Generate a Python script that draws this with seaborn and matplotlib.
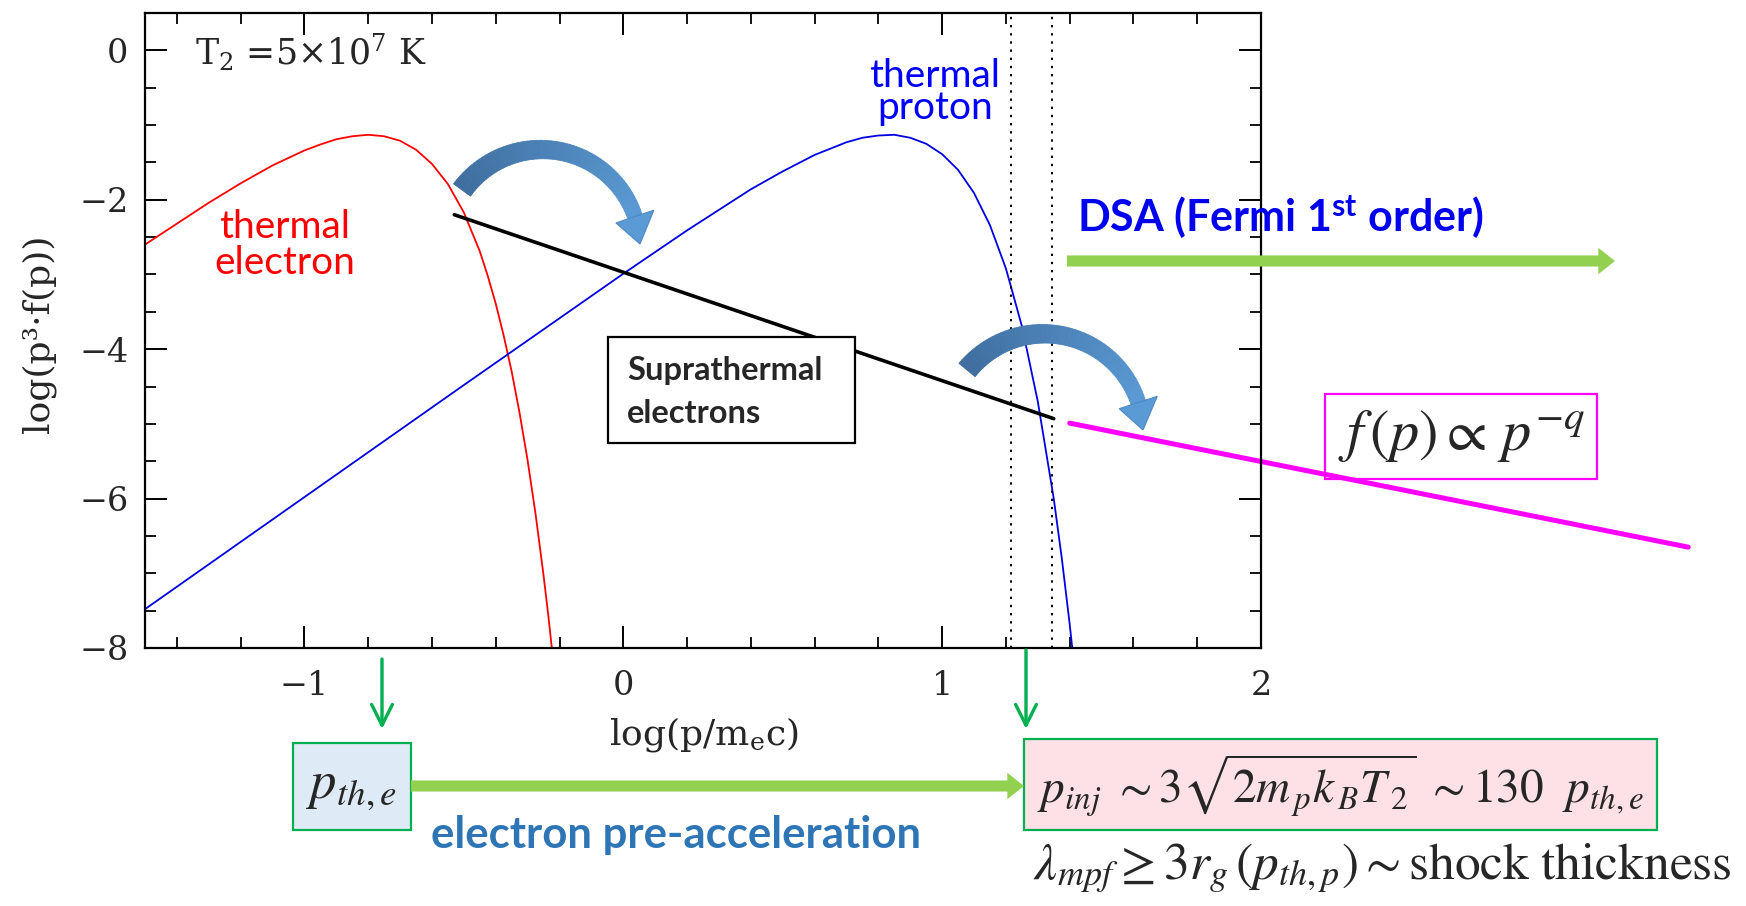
import matplotlib
matplotlib.use("Agg")
import matplotlib.pyplot as plt
import seaborn as sns
import numpy as np
import pandas as pd
from matplotlib.patches import FancyArrowPatch, ArrowStyle, Rectangle, Polygon
from matplotlib.ticker import FixedLocator, MultipleLocator
from matplotlib.colors import to_rgb

# ---------------- data ----------------
# thermal electron distribution  log(p^3 f(p)) vs log(p/m_e c)
red_x = [-1.5, -1.4, -1.3, -1.2, -1.1, -1.0, -0.95, -0.9, -0.85, -0.8, -0.75, -0.7,
         -0.65, -0.6, -0.55, -0.5, -0.45, -0.425, -0.4, -0.375, -0.35, -0.325, -0.3,
         -0.275, -0.25, -0.235, -0.22]
red_y = [-2.60, -2.32, -2.04, -1.78, -1.54, -1.34, -1.26, -1.19, -1.15, -1.13, -1.15, -1.21,
         -1.33, -1.52, -1.79, -2.17, -2.69, -3.02, -3.39, -3.82, -4.30, -4.86, -5.49,
         -6.21, -7.03, -7.57, -8.16]
# thermal proton distribution
blue_x = [-1.5, -1.0, -0.5, 0.0, 0.2, 0.4, 0.5, 0.6, 0.7, 0.75, 0.8, 0.85, 0.9, 0.95,
          1.0, 1.05, 1.1, 1.15, 1.2, 1.25, 1.3, 1.35, 1.375, 1.4, 1.42]
blue_y = [-7.48, -5.98, -4.48, -2.99, -2.41, -1.86, -1.62, -1.40, -1.23, -1.17, -1.14,
          -1.13, -1.17, -1.25, -1.39, -1.60, -1.91, -2.34, -2.92, -3.69, -4.70, -6.00,
          -6.79, -7.68, -8.48]
# suprathermal electrons (black) and power law f(p) ~ p^-q (magenta)
supra_x = [-0.53, 1.35]
supra_y = [-2.20, -4.93]
power_x = [1.40, 3.34]
power_y = [-4.99, -6.65]
# injection range (dotted lines)
inj_x = [1.217, 1.346]
x_ticks = [-1, 0, 1, 2]
y_ticks = [0, -2, -4, -6, -8]

# ---------------- style ----------------
sns.set_theme(style="ticks")
plt.rcParams["font.family"] = ["DejaVu Serif"]
plt.rcParams["mathtext.fontset"] = "custom"
plt.rcParams["mathtext.rm"] = "DejaVu Serif"
plt.rcParams["mathtext.it"] = "DejaVu Serif:italic"
plt.rcParams["mathtext.bf"] = "Lato:bold"

W, H = 1746, 906
fig = plt.figure(figsize=(W / 100, H / 100), dpi=100, facecolor="white")
ax = fig.add_axes([145 / W, 1 - 648 / H, 1116 / W, 635 / H])
ax.set_facecolor("white")

sns.lineplot(x=red_x, y=red_y, ax=ax, color="#FF0000", linewidth=1.3,
             estimator=None, sort=False)
sns.lineplot(x=blue_x, y=blue_y, ax=ax, color="#0000E0", linewidth=1.3,
             estimator=None, sort=False)
sns.lineplot(x=supra_x, y=supra_y, ax=ax, color="black", linewidth=2.6,
             estimator=None, sort=False)
sns.lineplot(x=power_x, y=power_y, ax=ax, color="#FF00FF", linewidth=3.6,
             estimator=None, sort=False)
ax.lines[-1].set_clip_on(False)
for xv in inj_x:
    ax.axvline(xv, color="black", lw=1.4, ls=(0, (1.2, 3.0)))

ax.set_xlim(-1.5, 2)
ax.set_ylim(-8, 0.5)
ax.xaxis.set_major_locator(FixedLocator(x_ticks))
ax.yaxis.set_major_locator(FixedLocator(y_ticks))
ax.xaxis.set_minor_locator(MultipleLocator(0.2))
ax.yaxis.set_minor_locator(MultipleLocator(0.5))
ax.tick_params(which="both", direction="in", top=True, right=True, color="black")
ax.tick_params(which="major", length=16, width=1.4, labelsize=24, pad=12)
ax.tick_params(which="minor", length=8, width=1.3)
ax.tick_params(axis="x", which="major", pad=16)
for s in ax.spines.values():
    s.set_linewidth(1.6)
    s.set_color("black")

ax.set_xlabel(r"log(p/m$_{\rm e}$c)", fontsize=26)
ax.xaxis.set_label_coords((704 - 145) / 1116, (648 - 735) / 635)
ax.xaxis.label.set_va("center")
ax.set_ylabel("log(p³·f(p))", fontsize=26)
ax.yaxis.set_label_coords((39 - 145) / 1116, (648 - 334) / 635)
ax.yaxis.label.set_va("center")

# ---------------- overlay in pixel coordinates ----------------
ov = fig.add_axes([0, 0, 1, 1])
ov.set_xlim(0, W)
ov.set_ylim(H, 0)
ov.axis("off")
ov.patch.set_visible(False)

sans = ["Lato", "DejaVu Sans"]

ov.text(195, 52, r"T$_2$ =5×10$^7$ K", fontsize=25, ha="left", va="center",
        math_fontfamily="custom")
ov.text(285, 245, "thermal\nelectron", color="#FF0000", fontsize=28, family=sans,
        ha="center", va="center", linespacing=1.0)
ov.text(935, 92, "thermal\nproton", color="#0000FF", fontsize=28, family=sans,
        ha="center", va="center", linespacing=0.85)

# Suprathermal box
ov.add_patch(Rectangle((608, 337), 247, 106, fc="white", ec="black", lw=1.6, zorder=3))
ov.text(627, 392, "Suprathermal\nelectrons", fontsize=23.5, family=sans, weight="bold",
        ha="left", va="center", linespacing=1.55, zorder=4)


# curved (circular-arc) block arrows with a dark-to-light gradient
def circ3(p1, p2, p3):
    (x1, y1), (x2, y2), (x3, y3) = p1, p2, p3
    d = 2 * (x1 * (y2 - y3) + x2 * (y3 - y1) + x3 * (y1 - y2))
    ux = ((x1**2 + y1**2) * (y2 - y3) + (x2**2 + y2**2) * (y3 - y1) + (x3**2 + y3**2) * (y1 - y2)) / d
    uy = ((x1**2 + y1**2) * (x3 - x2) + (x2**2 + y2**2) * (x1 - x3) + (x3**2 + y3**2) * (x2 - x1)) / d
    return ux, uy, np.hypot(x1 - ux, y1 - uy)


def arc_arrow(S, T, P, w0=21, w1=15, hw=40, hl=28, c0="#3F6E9F", c1="#5B9BD5"):
    cx, cy, r = circ3(S, T, P)
    aS = np.arctan2(S[1] - cy, S[0] - cx)
    aP = aS + (np.arctan2(P[1] - cy, P[0] - cx) - aS) % (2 * np.pi)
    aH = aP - hl / r
    n = 50
    t = np.linspace(0, 1, n)
    ang = aS + (aH - aS) * t
    w = w0 + (w1 - w0) * t
    outer = np.c_[cx + (r + w / 2) * np.cos(ang), cy + (r + w / 2) * np.sin(ang)]
    inner = np.c_[cx + (r - w / 2) * np.cos(ang), cy + (r - w / 2) * np.sin(ang)]
    rgb0, rgb1 = np.array(to_rgb(c0)), np.array(to_rgb(c1))
    for i in range(n - 1):
        col = rgb0 + (rgb1 - rgb0) * (i / (n - 1))
        quad = np.array([outer[i], outer[i + 1], inner[i + 1], inner[i]])
        ov.add_patch(Polygon(quad, closed=True, fc=col, ec=col, lw=0.6, zorder=5))
    head = np.array([
        [cx + (r + hw / 2) * np.cos(aH), cy + (r + hw / 2) * np.sin(aH)],
        [cx + r * np.cos(aP), cy + r * np.sin(aP)],
        [cx + (r - hw / 2) * np.cos(aH), cy + (r - hw / 2) * np.sin(aH)],
    ])
    ov.add_patch(Polygon(head, closed=True, fc=c1, ec="#4F88C2", lw=0.8, zorder=5))


arc_arrow((462, 190), (532, 150), (640, 244))
arc_arrow((967, 370), (1037, 334), (1143, 430))

# DSA
ov.text(1077, 217, r"DSA (Fermi 1$^{\mathbf{st}}$ order)", fontsize=31, family=sans,
        weight="bold", color="#0000EE", ha="left", va="center", math_fontfamily="custom")


def straight(p0, p1):
    a = FancyArrowPatch(p0, p1,
                        arrowstyle=ArrowStyle.Simple(head_length=1.2, head_width=1.9,
                                                     tail_width=0.8),
                        mutation_scale=10, fc="#92D050", ec="none",
                        shrinkA=0, shrinkB=0, zorder=4)
    ov.add_patch(a)


straight((1067, 261), (1615, 261))
straight((411, 786), (1024, 786))

# power law box
ov.add_patch(Rectangle((1325, 394), 272, 85, fc="none", ec="#FF00FF", lw=1.6))
ov.text(1461, 436, r"$f\,(p)\propto\, p^{-q}$", fontsize=42, math_fontfamily="stix",
        ha="center", va="center")

# green down arrows
for x0, y0 in [(382, 659), (1026, 650)]:
    ov.add_patch(FancyArrowPatch((x0, y0), (x0, 729),
                                 arrowstyle="->,head_length=0.5,head_width=0.25",
                                 mutation_scale=30, color="#00B050", lw=2.4,
                                 shrinkA=0, shrinkB=0))

# p_th,e box
ov.add_patch(Rectangle((293, 743), 118, 87, fc="#DEEBF7", ec="#00B050", lw=1.6, zorder=3))
ov.text(352, 786, r"$p_{th,e}$", fontsize=38, math_fontfamily="stix",
        ha="center", va="center", zorder=4)

ov.text(431, 835, "electron pre-acceleration", fontsize=31.5, family=sans, weight="bold",
        color="#2E75B6", ha="left", va="center")

# p_inj box
ov.add_patch(Rectangle((1024, 739), 633, 91, fc="#FDE1E7", ec="#00B050", lw=1.6, zorder=3))
ov.text(1340, 786, r"$p_{inj}\ \sim 3\sqrt{2m_{\,p}k_{\,B}T_{\,2}}\ \sim 130\ \ p_{th,e}$",
        fontsize=34, math_fontfamily="stix", ha="center", va="center", zorder=4)

ov.text(1033, 868, r"$\lambda_{mpf}\geq 3r_g\,(p_{th,p})\sim\mathrm{shock\ thickness}$",
        fontsize=37, math_fontfamily="stix", ha="left", va="center")

fig.savefig("out.png", dpi=100, facecolor="white")
